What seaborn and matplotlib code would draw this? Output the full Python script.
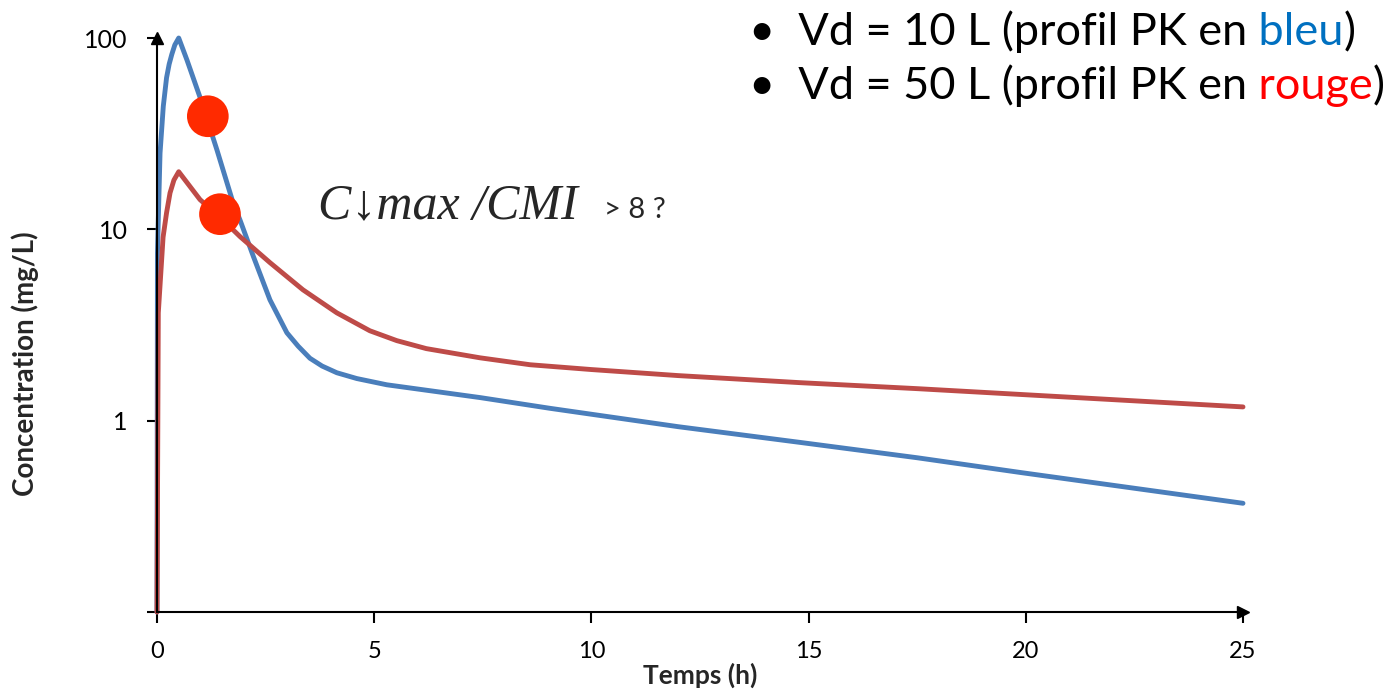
import matplotlib
matplotlib.use('Agg')
import matplotlib.pyplot as plt
import pandas as pd
import seaborn as sns

# ---- data ----
time_blue = [0, 0.01, 0.07, 0.145, 0.22, 0.28, 0.34, 0.41, 0.5, 0.69, 0.99, 1.38, 1.75,
             1.91, 2.22, 2.6, 2.99, 3.25, 3.52, 3.8, 4.14, 4.6, 5.29, 7.44, 9.05, 12,
             14.8, 17.5, 19.9, 25]
conc_blue = [0.1, 7.5, 25, 44, 62, 73, 82, 92, 100, 76.7, 49, 26, 13.8,
             11.2, 7.2, 4.28, 2.88, 2.45, 2.12, 1.93, 1.78, 1.66, 1.54, 1.32, 1.16, 0.93,
             0.77, 0.64, 0.535, 0.37]

time_red = [0, 0.03, 0.14, 0.22, 0.30, 0.39, 0.5, 0.99, 1.5, 1.91, 2.6, 3.36, 4.14,
            4.9, 5.52, 6.2, 7.44, 8.59, 10, 12, 14.8, 17.5, 19.9, 25]
conc_red = [0.1, 3.66, 9.1, 12.2, 15.5, 18.1, 20, 14.3, 11.3, 9.17, 6.7, 4.83, 3.66,
            2.95, 2.62, 2.38, 2.13, 1.96, 1.85, 1.72, 1.58, 1.47, 1.37, 1.18]

dot_time = [1.17, 1.45]
dot_conc = [39, 12]

x_ticks = [0, 5, 10, 15, 20, 25]
y_ticks = [0.1, 1, 10, 100]
y_tick_labels = ['', '1', '10', '100']

sns.set_style('ticks')
plt.rcParams['font.family'] = ['Lato', 'DejaVu Sans']

W, H = 1393, 692
fig = plt.figure(figsize=(W / 100, H / 100), dpi=100)
ax = fig.add_axes([157 / W, 1 - 612 / H, (1243 - 157) / W, (612 - 38) / H])

df_b = pd.DataFrame({'t': time_blue, 'c': conc_blue})
df_r = pd.DataFrame({'t': time_red, 'c': conc_red})
sns.lineplot(data=df_b, x='t', y='c', ax=ax, color='#4A7EBB', lw=3.5,
             sort=False, estimator=None)
sns.lineplot(data=df_r, x='t', y='c', ax=ax, color='#BE4B48', lw=3.5,
             sort=False, estimator=None)
sns.scatterplot(x=dot_time, y=dot_conc, ax=ax, s=900, color='#FF2A00',
                edgecolor='none', zorder=5)
for ln in ax.lines:
    ln.set_clip_on(False)
    ln.set_solid_joinstyle('round')

ax.set_yscale('log')
ax.set_xlim(0, 25)
ax.set_ylim(0.1, 100)
ax.set_xticks(x_ticks)
ax.set_xticklabels([str(v) for v in x_ticks])
ax.set_yticks(y_ticks)
ax.set_yticklabels(y_tick_labels)
ax.minorticks_off()
ax.set_xlabel('')
ax.set_ylabel('')

for s in ['top', 'right']:
    ax.spines[s].set_visible(False)
for s in ['left', 'bottom']:
    ax.spines[s].set_linewidth(1.5)
    ax.spines[s].set_color('black')
ax.tick_params(axis='y', direction='out', length=7, width=1.5, pad=14,
               labelsize=18, colors='black')
ax.tick_params(axis='x', direction='out', length=8, width=1.5, pad=13,
               labelsize=17, colors='black')

# axis arrows
ax.plot(1, 0, marker='>', color='k', ms=9, transform=ax.transAxes, clip_on=False)
ax.plot(0, 1, marker='^', color='k', ms=9, transform=ax.transAxes, clip_on=False)

fig.text(700 / W, 1 - 675 / H, 'Temps (h)', ha='center', va='center',
         fontsize=19, weight='bold')
fig.text(25 / W, 1 - 364 / H, 'Concentration (mg/L)', ha='center', va='center',
         rotation=90, fontsize=20, weight='bold')

# annotation
fig.text(318 / W, 1 - 218 / H, 'C↓max /CMI', family=['Liberation Serif', 'DejaVu Serif'],
         style='italic', fontsize=36, va='baseline')
fig.text(604 / W, 1 - 218 / H, '> 8 ?', fontsize=21, va='baseline')

# legend-like text in the upper right
fs = 32.5
def chain(x0, y0, parts):
    prev = fig.text(x0 / W, 1 - y0 / H, parts[0][0], color=parts[0][1],
                    fontsize=fs, va='baseline')
    for txt, col in parts[1:]:
        prev = ax.annotate(txt, xy=(1, 0), xycoords=prev, va='bottom', ha='left',
                           color=col, fontsize=fs, annotation_clip=False)

chain(749, 45, [('•  Vd = 10 L (profil PK en', 'black'), (' bleu', '#0070C0'), (')', 'black')])
chain(749, 99, [('•  Vd = 50 L (profil PK en', 'black'), (' rouge', '#FF0000'), (')', 'black')])

fig.savefig('out.png', dpi=100)
